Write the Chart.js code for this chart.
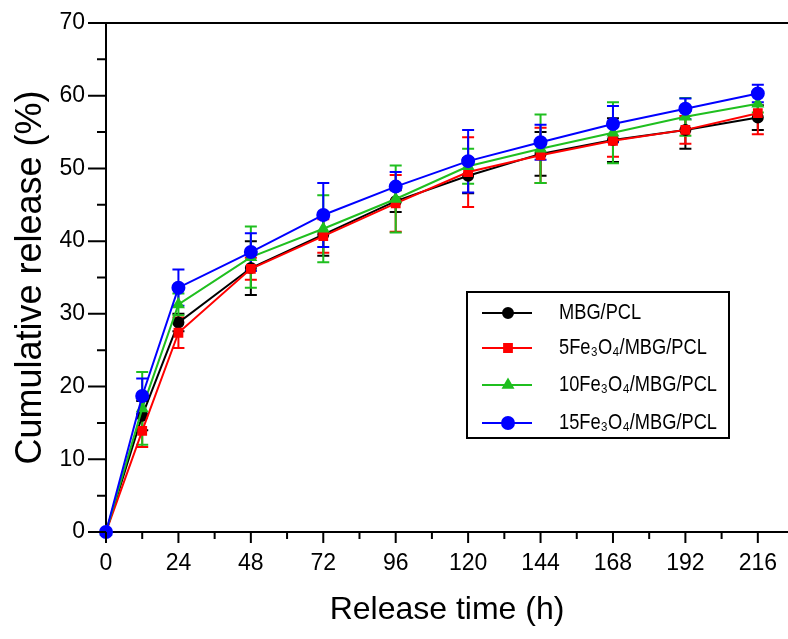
<!DOCTYPE html>
<html>
<head>
<meta charset="utf-8">
<script src="https://cdn.jsdelivr.net/npm/chart.js@4.4.1/dist/chart.umd.min.js"></script>
<style>
html,body{margin:0;padding:0;background:#fff;}
#wrap{width:788px;height:639px;position:relative;}
</style>
</head>
<body>
<div id="wrap"><canvas id="c" width="788" height="639"></canvas></div>
<script>
// ---- data ----
const times = [0, 12, 24, 48, 72, 96, 120, 144, 168, 192, 216];
const seriesNames = ["MBG/PCL", "5Fe\u2083O\u2084/MBG/PCL", "10Fe\u2083O\u2084/MBG/PCL", "15Fe\u2083O\u2084/MBG/PCL"];
const mbg   = [0, 16.0, 28.8, 36.3, 40.9, 45.5, 49.0, 52.0, 53.9, 55.3, 57.0];
const fe5   = [0, 13.9, 27.4, 36.2, 40.7, 45.2, 49.5, 51.8, 53.8, 55.3, 57.6];
const fe10  = [0, 17.0, 31.3, 37.8, 41.7, 45.8, 50.3, 52.7, 54.9, 57.1, 58.9];
const fe15  = [0, 18.7, 33.6, 38.5, 43.6, 47.5, 51.0, 53.6, 56.1, 58.2, 60.3];
const mbgErr  = [0, 2.0, 1.2, 3.7, 2.9, 1.5, 2.4, 3.0, 3.0, 2.6, 1.7];
const fe5Err  = [0, 2.2, 2.1, 1.5, 2.3, 3.9, 4.8, 3.8, 2.2, 1.9, 2.9];
const fe10Err = [0, 5.0, 1.5, 4.2, 4.6, 4.6, 2.4, 4.7, 4.2, 2.6, 1.2];
const fe15Err = [0, 2.4, 2.5, 2.6, 4.4, 2.0, 4.3, 2.4, 2.5, 1.4, 1.2];
const xTickValues = [0, 12, 24, 36, 48, 60, 72, 84, 96, 108, 120, 132, 144, 156, 168, 180, 192, 204, 216];
const xTickLabels = [0, 24, 48, 72, 96, 120, 144, 168, 192, 216];
const yTickLabels = [0, 10, 20, 30, 40, 50, 60, 70];

const REG = '"Liberation Sans", Arial, sans-serif';

const colors = ['#000000', '#ff0000', '#1fbf1f', '#0000ff'];
const styles = ['circle', 'rect', 'triangle', 'circle'];
const radii = [5, 5.5, 5.5, 6];
const values = [mbg, fe5, fe10, fe15];
const errs = [mbgErr, fe5Err, fe10Err, fe15Err];

const datasets = values.map((arr, k) => ({
  label: seriesNames[k],
  data: times.map((t, i) => ({x: t, y: arr[i]})),
  errors: errs[k],
  borderColor: colors[k],
  backgroundColor: colors[k],
  pointBackgroundColor: colors[k],
  pointBorderColor: colors[k],
  pointStyle: styles[k],
  pointRadius: radii[k],
  borderWidth: 2,
  tension: 0,
  clip: false,
  order: 3 - k
}));

const errorBars = {
  id: 'errorBars',
  beforeDatasetsDraw(chart) {
    const ctx = chart.ctx;
    const ys = chart.scales.y;
    chart.data.datasets.forEach((ds, k) => {
      const meta = chart.getDatasetMeta(k);
      ctx.save();
      ctx.strokeStyle = ds.borderColor;
      ctx.lineWidth = 2;
      meta.data.forEach((pt, i) => {
        const e = ds.errors[i];
        if (!e) return;
        const v = ds.data[i].y;
        const yTop = ys.getPixelForValue(v + e);
        const yBot = ys.getPixelForValue(v - e);
        const x = pt.x;
        ctx.beginPath();
        ctx.moveTo(x, yTop); ctx.lineTo(x, yBot);
        ctx.moveTo(x - 6, yTop); ctx.lineTo(x + 6, yTop);
        ctx.moveTo(x - 6, yBot); ctx.lineTo(x + 6, yBot);
        ctx.stroke();
      });
      ctx.restore();
    });
  }
};

const axisDecor = {
  id: 'axisDecor',
  afterDraw(chart) {
    const ctx = chart.ctx;
    const {left, right, top, bottom} = chart.chartArea;
    const xs = chart.scales.x, ys = chart.scales.y;
    ctx.save();
    ctx.strokeStyle = '#000';
    ctx.lineWidth = 2;
    // top frame line
    ctx.beginPath();
    ctx.moveTo(left - 1, top); ctx.lineTo(right, top);
    ctx.stroke();
    // x ticks
    ctx.beginPath();
    xs.ticks.forEach(t => {
      const v = t.value;
      const px = xs.getPixelForValue(v);
      const len = (v % 24 === 0) ? 11 : 7;
      ctx.moveTo(px, bottom); ctx.lineTo(px, bottom + len);
    });
    // y ticks
    ys.ticks.forEach(t => {
      const v = t.value;
      if (v % 5 !== 0) return;
      const py = ys.getPixelForValue(v);
      const len = (v % 10 === 0) ? 18 : 9;
      ctx.moveTo(left, py); ctx.lineTo(left - len, py);
    });
    ctx.stroke();

    // legend
    const bx = 467, by = 292, bw = 262, bh = 146;
    ctx.lineWidth = 2;
    ctx.strokeRect(bx, by, bw, bh);
    const rowY = [313, 348, 385, 423];
    chart.data.datasets.forEach((ds, k) => {
      const y = rowY[k];
      ctx.strokeStyle = ds.borderColor;
      ctx.lineWidth = 2;
      ctx.beginPath();
      ctx.moveTo(482, y); ctx.lineTo(532, y);
      ctx.stroke();
      ctx.fillStyle = ds.borderColor;
      Chart.helpers.drawPoint(ctx, {pointStyle: ds.pointStyle, radius: ds.pointRadius, borderWidth: 1, rotation: 0}, 508, y);
      ctx.fill();
      ctx.save();
      ctx.fillStyle = '#000';
      ctx.font = '22px ' + REG;
      ctx.textBaseline = 'middle';
      ctx.textAlign = 'left';
      ctx.translate(559, y);
      ctx.scale(0.83, 1);
      ctx.fillText(ds.label, 0, 0);
      ctx.restore();
    });
    ctx.restore();
  }
};

new Chart(document.getElementById('c'), {
  type: 'line',
  data: {datasets},
  options: {
    responsive: false,
    animation: false,
    devicePixelRatio: 1,
    layout: {autoPadding: false, padding: {top: 23, right: 0, left: 0, bottom: 0}},
    plugins: {legend: {display: false}, tooltip: {enabled: false}},
    scales: {
      x: {
        type: 'linear',
        min: 0, max: 226,
        grid: {display: false, drawTicks: false},
        border: {display: true, color: '#000', width: 2},
        afterBuildTicks: s => { s.ticks = xTickValues.map(v => ({value: v})); },
        ticks: {
          autoSkip: false,
          maxRotation: 0,
          padding: 18,
          color: '#000',
          font: {family: REG, size: 23},
          callback: v => xTickLabels.includes(v) ? String(v) : ''
        },
        title: {
          display: true,
          text: 'Release time (h)',
          color: '#000',
          font: {family: REG, size: 32},
          padding: {top: 0, bottom: 10}
        },
        afterFit: s => { s.height = 107; s.paddingLeft = 0; s.paddingRight = 0; }
      },
      y: {
        min: 0, max: 70,
        grid: {display: false, drawTicks: false},
        border: {display: true, color: '#000', width: 2},
        ticks: {
          stepSize: 5,
          autoSkip: false,
          padding: 21,
          color: '#000',
          font: {family: REG, size: 23},
          callback: v => yTickLabels.includes(v) ? String(v) : ''
        },
        title: {
          display: true,
          text: 'Cumulative release (%)',
          color: '#000',
          font: {family: REG, size: 36},
          padding: {top: 9, bottom: 0}
        },
        afterFit: s => { s.width = 106; s.paddingTop = 0; s.paddingBottom = 0; }
      }
    }
  },
  plugins: [errorBars, axisDecor]
});
</script>
</body>
</html>
